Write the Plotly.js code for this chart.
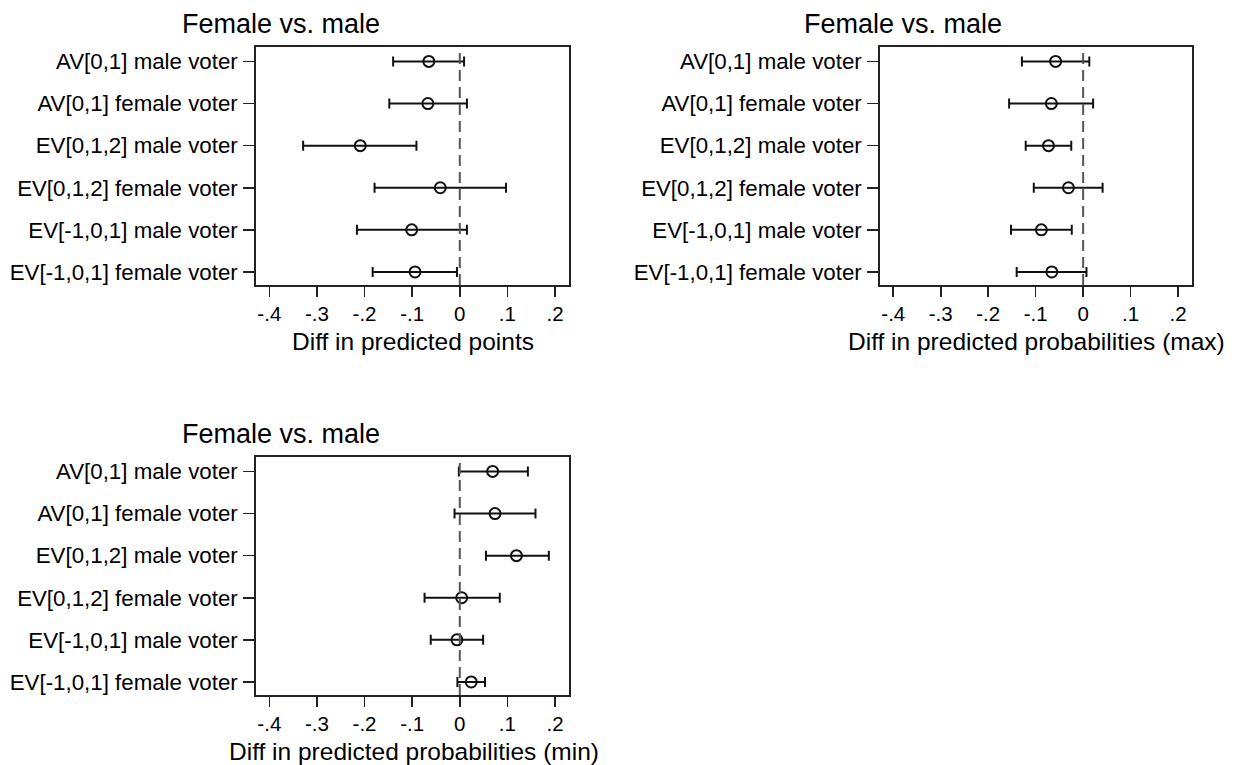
<!DOCTYPE html>
<html>
<head>
<meta charset="utf-8">
<script src="https://cdn.plot.ly/plotly-3.0.1.min.js"></script>
<style>html,body{margin:0;padding:0;background:#fff;}#chart{width:1238px;height:765px;}</style>
</head>
<body>
<div id="chart"></div>
<script>
const categories = [
  "AV[0,1] male voter",
  "AV[0,1] female voter",
  "EV[0,1,2] male voter",
  "EV[0,1,2] female voter",
  "EV[-1,0,1] male voter",
  "EV[-1,0,1] female voter"
];
const xTickVals = [-0.4, -0.3, -0.2, -0.1, 0, 0.1, 0.2];
const xTickText = ["-.4", "-.3", "-.2", "-.1", "0", ".1", ".2"];

const pointsEst  = [-0.065, -0.067, -0.209, -0.041, -0.101, -0.094];
const pointsLow  = [-0.140, -0.148, -0.329, -0.179, -0.216, -0.183];
const pointsHigh = [0.009, 0.015, -0.091, 0.097, 0.015, -0.006];

const maxEst  = [-0.058, -0.067, -0.073, -0.031, -0.088, -0.066];
const maxLow  = [-0.129, -0.156, -0.121, -0.104, -0.152, -0.140];
const maxHigh = [0.013, 0.021, -0.025, 0.041, -0.024, 0.007];

const minEst  = [0.069, 0.074, 0.119, 0.004, -0.006, 0.024];
const minLow  = [-0.002, -0.011, 0.055, -0.074, -0.061, -0.005];
const minHigh = [0.143, 0.159, 0.187, 0.084, 0.049, 0.053];

const panelTitle = "Female vs. male";
const axisTitles = ["Diff in predicted points", "Diff in predicted probabilities (max)", "Diff in predicted probabilities (min)"];

const FONT = "Liberation Sans, Arial, sans-serif";
const panels = [
  {est: pointsEst, low: pointsLow, high: pointsHigh, xa: "x", ya: "y",
   dx: [256/1238, 569.3/1238], dy: [1-285/765, 1-46.7/765], tx: 280.5, ty: 24, ax: 412.5, ay: 341},
  {est: maxEst, low: maxLow, high: maxHigh, xa: "x2", ya: "y2",
   dx: [880/1238, 1192.3/1238], dy: [1-285/765, 1-46.7/765], tx: 903.3, ty: 24, ax: 1036.5, ay: 341},
  {est: minEst, low: minLow, high: minHigh, xa: "x3", ya: "y3",
   dx: [256/1238, 569.3/1238], dy: [1-695/765, 1-456.7/765], tx: 280.5, ty: 434, ax: 413.5, ay: 751}
];

const traces = [];
const layout = {
  width: 1238, height: 765,
  margin: {l: 0, r: 0, t: 0, b: 0},
  paper_bgcolor: "#ffffff", plot_bgcolor: "#ffffff",
  showlegend: false,
  font: {family: FONT, color: "#000", size: 22},
  annotations: [], shapes: []
};

panels.forEach((p, i) => {
  traces.push({
    type: "scatter", mode: "markers",
    x: p.est, y: categories,
    xaxis: p.xa, yaxis: p.ya,
    marker: {symbol: "circle-open", size: 11, color: "#111", line: {width: 2, color: "#111"}},
    error_x: {
      type: "data", symmetric: false,
      array: p.high.map((h, k) => h - p.est[k]),
      arrayminus: p.low.map((l, k) => p.est[k] - l),
      color: "#111", thickness: 2, width: 5
    },
    hoverinfo: "x+y"
  });
  const sfx = i === 0 ? "" : String(i + 1);
  layout["xaxis" + sfx] = {
    domain: p.dx, anchor: "y" + sfx, range: [-0.428, 0.23],
    tickvals: xTickVals, ticktext: xTickText,
    ticks: "outside", ticklen: 10, tickwidth: 1.6, tickcolor: "#222",
    showline: true, mirror: true, linecolor: "#222", linewidth: 1.8,
    showgrid: false, zeroline: false, tickfont: {size: 20.5, family: FONT},
    ticklabelstandoff: 0
  };
  layout["yaxis" + sfx] = {
    domain: p.dy, anchor: "x" + sfx, type: "category",
    categoryorder: "array", categoryarray: categories,
    range: [5.31, -0.35],
    ticks: "outside", ticklen: 11, tickwidth: 1.6, tickcolor: "#222",
    showline: true, mirror: true, linecolor: "#222", linewidth: 1.8,
    showgrid: false, zeroline: false, tickfont: {size: 22.3, family: FONT},
    ticklabelstandoff: 1
  };
  layout.shapes.push({
    type: "line", xref: p.xa, yref: p.ya + " domain",
    x0: 0, x1: 0, y0: 0, y1: 1,
    line: {color: "#555", width: 2, dash: "11px,6px"}
  });
  layout.annotations.push({
    xref: "paper", yref: "paper", x: p.tx / 1238, y: 1 - p.ty / 765,
    xanchor: "center", yanchor: "middle", showarrow: false,
    text: panelTitle, font: {size: 27, family: FONT, color: "#000"}
  });
  layout.annotations.push({
    xref: "paper", yref: "paper", x: p.ax / 1238, y: 1 - p.ay / 765,
    xanchor: "center", yanchor: "middle", showarrow: false,
    text: axisTitles[i], font: {size: 24.5, family: FONT, color: "#000"}
  });
});

Plotly.newPlot("chart", traces, layout, {displayModeBar: false, staticPlot: true});
</script>
</body>
</html>
